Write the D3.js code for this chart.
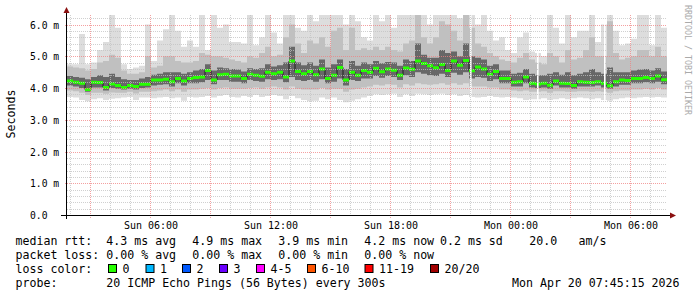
<!DOCTYPE html>
<html>
<head>
<meta charset="utf-8">
<script src="https://cdn.jsdelivr.net/npm/d3@7"></script>
<style>
  html, body { margin: 0; padding: 0; background: #fff; }
  svg text { font-family: "DejaVu Sans Mono", monospace; white-space: pre; }
</style>
</head>
<body>
<svg width="697" height="297"></svg>
<script>
// 100 bins of 18 minutes, Sun 01:51 -> Mon 07:51 (values in ms)
const startTime = new Date(2026, 3, 19, 1, 51);
const binMinutes = 18;

const median = [
  4.22,4.18,4.15,3.95,4.18,4.17,4.02,4.13,4.08,4.02,4.08,4.05,4.12,4.12,4.25,4.25,4.28,4.20,4.30,4.22,4.30,4.33,4.35,4.55,4.25,4.42,
  4.43,4.38,4.38,4.30,4.43,4.40,4.37,4.50,4.45,4.50,4.35,4.85,4.52,4.45,4.52,4.42,4.60,4.30,4.40,4.65,4.25,4.50,4.40,4.55,4.50,
  4.62,4.51,4.60,4.56,4.40,4.63,4.59,4.85,4.77,4.70,4.64,4.74,4.55,4.85,4.72,4.87,4.54,4.66,4.60,4.43,4.52,4.30,4.30,4.18,4.20,
  4.35,4.15,4.13,4.15,4.09,4.22,4.15,4.14,4.08,4.20,4.18,4.17,4.20,4.15,4.07,4.20,4.25,4.24,4.30,4.30,4.33,4.30,4.38,4.26
];
const pingMin = [
  3.72,3.70,3.62,3.58,3.65,3.68,3.62,3.66,3.68,3.70,3.72,3.62,3.70,3.70,3.68,3.70,3.72,3.68,3.70,3.60,3.72,3.70,3.72,3.75,3.70,3.75,
  3.78,3.72,3.70,3.75,3.72,3.78,3.72,3.75,3.78,3.75,3.65,3.75,3.68,3.62,3.58,3.60,3.70,3.65,3.70,3.62,3.55,3.60,3.65,3.70,3.75,
  3.80,3.78,3.80,3.82,3.72,3.80,3.75,3.82,3.80,3.78,3.80,3.82,3.78,3.80,3.75,3.78,3.72,3.70,3.72,3.75,3.72,3.70,3.72,3.70,3.68,
  3.62,3.65,3.65,3.68,3.62,3.65,3.68,3.65,3.68,3.70,3.68,3.65,3.68,3.62,3.60,3.65,3.68,3.70,3.68,3.70,3.72,3.70,3.72,3.70
];
const ping10 = [
  3.92,3.90,3.85,3.78,3.85,3.85,3.82,3.86,3.85,3.85,3.88,3.83,3.88,3.88,3.90,3.92,3.95,3.90,3.95,3.88,3.95,3.95,3.98,4.00,3.95,4.00,
  4.02,3.98,3.98,3.98,4.00,4.02,3.98,4.02,4.05,4.02,3.95,4.05,3.98,3.95,3.95,3.95,4.00,3.95,3.98,3.98,3.88,3.95,3.98,4.02,4.05,
  4.10,4.08,4.12,4.10,4.02,4.12,4.08,4.15,4.12,4.10,4.12,4.15,4.10,4.15,4.10,4.15,4.05,4.05,4.05,4.02,4.02,3.95,3.95,3.92,3.90,
  3.92,3.88,3.88,3.90,3.85,3.90,3.90,3.88,3.88,3.90,3.90,3.88,3.90,3.88,3.85,3.90,3.92,3.92,3.95,3.95,3.98,3.95,4.00,3.95
];
const ping25 = [
  4.08,4.05,4.00,3.88,4.02,4.02,3.92,4.00,3.98,3.95,3.98,3.95,4.00,4.02,4.08,4.10,4.12,4.05,4.15,4.08,4.15,4.15,4.18,4.25,4.12,4.25,
  4.25,4.20,4.20,4.15,4.25,4.22,4.20,4.28,4.25,4.28,4.18,4.35,4.25,4.22,4.25,4.20,4.28,4.15,4.20,4.30,4.08,4.25,4.22,4.30,4.30,
  4.38,4.32,4.38,4.35,4.25,4.40,4.35,4.50,4.45,4.40,4.38,4.45,4.35,4.48,4.42,4.50,4.30,4.35,4.32,4.22,4.28,4.15,4.15,4.05,4.05,
  4.15,4.02,4.00,4.02,3.98,4.08,4.02,4.02,3.98,4.05,4.05,4.05,4.08,4.02,3.98,4.05,4.10,4.10,4.15,4.15,4.18,4.15,4.20,4.12
];
const ping75 = [
  4.38,4.35,4.32,4.28,4.35,4.40,4.35,4.45,4.35,4.28,4.25,4.25,4.30,4.35,4.42,4.45,4.50,4.50,4.50,4.45,4.50,4.55,4.60,4.75,4.55,4.65,
  4.62,4.60,4.58,4.52,4.62,4.60,4.62,4.75,4.68,4.72,4.80,5.30,4.80,4.72,4.80,4.70,4.90,4.65,4.75,4.90,4.60,4.85,4.70,4.80,4.75,
  4.85,4.78,4.82,4.80,4.70,4.90,4.85,5.40,5.05,4.95,4.95,5.20,5.10,5.15,5.00,5.40,5.00,4.95,4.90,4.70,4.75,4.55,4.55,4.45,4.48,
  4.60,4.45,4.40,4.40,4.45,4.50,4.42,4.50,4.40,4.45,4.50,4.60,4.50,4.45,4.65,4.50,4.50,4.50,4.55,4.58,4.60,4.55,4.62,4.52
];
const ping90 = [
  4.68,4.65,4.62,4.55,4.60,4.80,4.85,5.05,4.95,4.55,4.45,4.45,4.50,5.00,4.65,4.70,5.00,5.00,4.85,4.80,4.80,4.85,5.10,5.05,5.00,5.00,
  4.95,4.90,4.85,4.80,5.00,4.95,5.10,5.30,5.00,5.05,5.60,6.00,5.40,5.10,5.50,5.40,5.60,5.30,5.80,5.90,5.20,5.90,5.20,5.25,5.20,
  5.30,5.20,5.30,5.20,5.15,5.40,5.50,6.30,5.60,5.40,5.60,6.10,6.00,5.80,5.50,6.30,5.90,5.40,5.30,5.10,5.00,4.90,4.85,4.80,4.95,
  5.10,4.90,4.80,4.75,5.10,5.00,4.80,5.20,4.90,4.95,5.20,5.60,5.00,5.00,6.10,5.10,4.90,4.95,5.00,5.20,5.20,5.00,5.30,5.00
];
const pingMax = [
  4.75,4.75,5.70,4.75,4.80,5.20,5.45,6.30,5.90,4.75,4.60,4.65,4.70,6.00,4.85,5.50,5.85,6.30,5.80,5.30,5.50,5.30,6.30,5.20,6.30,5.90,
  6.00,5.45,5.45,5.40,6.30,5.35,5.60,6.30,5.75,5.40,6.30,6.30,5.90,5.80,6.30,6.10,6.30,6.30,6.30,6.30,6.00,6.30,6.10,5.60,5.50,
  6.30,6.10,6.30,5.90,6.30,6.30,6.30,6.30,6.30,6.00,6.30,6.30,6.30,6.30,6.20,6.30,6.30,6.00,6.30,5.80,5.50,5.60,5.20,5.10,5.60,
  5.75,5.15,5.10,5.00,6.30,5.90,5.40,6.30,5.60,5.80,5.80,6.30,5.45,6.00,6.30,5.80,5.35,5.40,5.55,6.30,6.30,5.35,6.30,5.90
];
// samples that came back unknown
const missingTimes = [new Date(2026, 3, 19, 22, 0), new Date(2026, 3, 20, 1, 21), new Date(2026, 3, 20, 4, 42)];

// legend text
const rowTitles = ["median rtt:", "packet loss:", "loss color:", "probe:"];
const rttStats = ["4.3 ms avg", "4.9 ms max", "3.9 ms min", "4.2 ms now", "0.2 ms sd", "20.0", "am/s"];
const lossStats = ["0.00 % avg", "0.00 % max", "0.00 % min", "0.00 % now"];
const lossLabels = ["0", "1", "2", "3", "4-5", "6-10", "11-19", "20/20"];
const lossColors = ["#26ff00", "#00b8ff", "#0059ff", "#6a00ff", "#ff00ff", "#ff5500", "#ff0000", "#a10000"];
const probeText = "20 ICMP Echo Pings (56 Bytes) every 300s";
const stampText = "Mon Apr 20 07:45:15 2026";

const svg = d3.select("svg");
const plotLeft = 67, plotRight = 667, plotTop = 15, plotBottom = 215;
const endTime = d3.timeMinute.offset(startTime, median.length * binMinutes);

const x = d3.scaleTime().domain([startTime, endTime]).range([plotLeft, plotRight]);
const y = d3.scaleLinear().domain([0, 6.3]).range([plotBottom, plotTop]);

svg.append("rect").attr("width", 697).attr("height", 297).attr("fill", "#fff");

svg.append("clipPath").attr("id", "plot")
  .append("rect").attr("x", plotLeft).attr("y", plotTop)
  .attr("width", plotRight - plotLeft).attr("height", plotBottom - plotTop);

const rows = median.map((m, i) => ({
  t: d3.timeMinute.offset(startTime, i * binMinutes),
  med: m, lo: pingMin[i], p10: ping10[i], p25: ping25[i], p75: ping75[i], p90: ping90[i], hi: pingMax[i]
}));
// repeat the last bin so the steps reach the right edge
rows.push(Object.assign({}, rows[rows.length - 1], { t: endTime }));

const g = svg.append("g").attr("clip-path", "url(#plot)");

// smoke
const layers = [["lo", "hi", "#dddddd"], ["p10", "p90", "#c0c0c0"], ["p25", "p75", "#676767"]];
layers.forEach(([a, b, c]) => {
  g.append("path")
    .datum(rows)
    .attr("fill", c)
    .attr("d", d3.area().curve(d3.curveStepAfter)
      .x(d => x(d.t)).y0(d => y(d[a])).y1(d => y(d[b])));
});

// median line + loss colour band
g.append("path")
  .datum(rows)
  .attr("fill", "none")
  .attr("stroke", "#202020")
  .attr("stroke-width", 1)
  .attr("d", d3.line().curve(d3.curveStepAfter).x(d => x(d.t)).y(d => y(d.med)));

g.append("path")
  .datum(rows)
  .attr("fill", lossColors[0])
  .attr("d", d3.area().curve(d3.curveStepAfter)
    .x(d => x(d.t)).y0(d => y(d.med) + 1.5).y1(d => y(d.med) - 1.5));

// unknown samples
g.selectAll(".gap")
  .data(missingTimes)
  .join("rect")
  .attr("x", d => x(d))
  .attr("y", plotTop)
  .attr("width", 1.6)
  .attr("height", plotBottom - plotTop)
  .attr("fill", "#fff");

// grid (drawn over the data like rrdtool does)
const grid = svg.append("g").attr("shape-rendering", "crispEdges").attr("stroke-dasharray", "1,1");
const minorY = y.ticks(32), majorY = y.ticks(6);
const minorX = x.ticks(d3.timeHour.every(1)), majorX = x.ticks(d3.timeHour.every(3));

grid.selectAll(".my").data(minorY.filter(v => !majorY.includes(v)))
  .join("line")
  .attr("x1", plotLeft).attr("x2", plotRight)
  .attr("y1", d => Math.round(y(d)) + 0.5).attr("y2", d => Math.round(y(d)) + 0.5)
  .attr("stroke", "#c0c0c0").attr("stroke-opacity", 0.75);
grid.selectAll(".mx").data(minorX.filter(t => t.getHours() % 3 !== 0))
  .join("line")
  .attr("y1", plotTop).attr("y2", plotBottom)
  .attr("x1", d => Math.round(x(d)) + 0.5).attr("x2", d => Math.round(x(d)) + 0.5)
  .attr("stroke", "#c0c0c0").attr("stroke-opacity", 0.75);
grid.selectAll(".My").data(majorY.filter(v => v > 0))
  .join("line")
  .attr("x1", plotLeft - 2).attr("x2", plotRight)
  .attr("y1", d => Math.round(y(d)) + 0.5).attr("y2", d => Math.round(y(d)) + 0.5)
  .attr("stroke", "#f08080").attr("stroke-opacity", 0.75);
grid.selectAll(".Mx").data(majorX)
  .join("line")
  .attr("y1", plotTop).attr("y2", plotBottom + 3)
  .attr("x1", d => Math.round(x(d)) + 0.5).attr("x2", d => Math.round(x(d)) + 0.5)
  .attr("stroke", "#f08080").attr("stroke-opacity", 0.75);

// axes
const ax = svg.append("g").attr("shape-rendering", "crispEdges");
ax.append("line").attr("x1", 61).attr("x2", 671).attr("y1", plotBottom + 0.5).attr("y2", plotBottom + 0.5).attr("stroke", "#000");
ax.append("line").attr("x1", 66.5).attr("x2", 66.5).attr("y1", plotBottom + 4).attr("y2", 12).attr("stroke", "#000");
svg.append("path").attr("d", "M670,212.5L676,215.5L670,218.5Z").attr("fill", "#8b1010");
svg.append("path").attr("d", "M63.5,13L66.5,7L69.5,13Z").attr("fill", "#8b1010");

// y tick labels
svg.selectAll(".yl").data(majorY)
  .join("text")
  .attr("x", 30)
  .attr("y", d => Math.round(y(d)) + 4)
  .attr("font-size", 9.7)
  .attr("fill", "#000")
  .text(d => d === 0 ? "0.0" : d.toFixed(1) + " m");

// x tick labels
const fmt = d3.timeFormat("%a %H:%M");
svg.selectAll(".xl").data(x.ticks(d3.timeHour.every(6)))
  .join("text")
  .attr("x", d => x(d) + 1)
  .attr("y", 228.5)
  .attr("text-anchor", "middle")
  .attr("font-size", 10)
  .attr("fill", "#000")
  .text(fmt);

svg.append("text")
  .attr("transform", "translate(15,114) rotate(-90)")
  .attr("text-anchor", "middle")
  .attr("font-size", 11.6)
  .text("Seconds");

svg.append("text")
  .attr("transform", "translate(685,5) rotate(90)")
  .attr("font-size", 8.3)
  .attr("fill", "#aaaaaa")
  .text("RRDTOOL / TOBI OETIKER");

// legend
const rowY = [245, 259, 273, 287];
const leg = svg.append("g").attr("font-size", 11.6).attr("fill", "#000");
rowTitles.forEach((t, i) => leg.append("text").attr("x", 15.5).attr("y", rowY[i]).text(t));

const rttX = [106.3, 192.3, 278.3, 364.3, 440, 529.3, 578.5];
rttStats.forEach((t, i) => leg.append("text").attr("x", rttX[i]).attr("y", rowY[0]).text(t));
lossStats.forEach((t, i) => leg.append("text").attr("x", rttX[i]).attr("y", rowY[1]).text(t));

const boxX = [108.5, 146, 182.5, 219.5, 256.5, 307.5, 365, 430.5];
lossLabels.forEach((t, i) => {
  leg.append("rect")
    .attr("x", boxX[i]).attr("y", rowY[2] - 8.5)
    .attr("width", 8).attr("height", 8)
    .attr("fill", lossColors[i]).attr("stroke", "#000").attr("stroke-width", 1);
  leg.append("text").attr("x", boxX[i] + 14).attr("y", rowY[2]).text(t);
});

leg.append("text").attr("x", 106.3).attr("y", rowY[3]).text(probeText);
leg.append("text").attr("x", 512).attr("y", rowY[3]).text(stampText);
</script>
</body>
</html>
